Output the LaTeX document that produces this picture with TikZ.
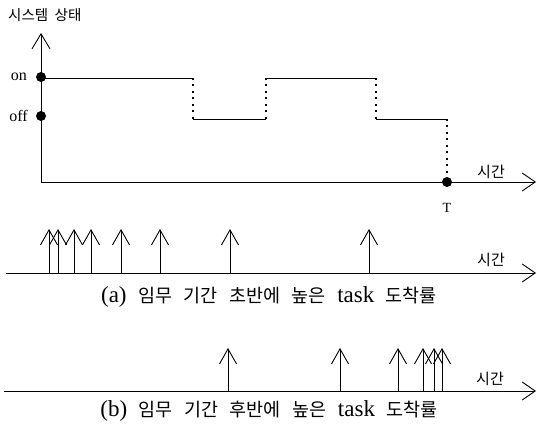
\documentclass[tikz,border=0pt]{standalone}
\usepackage{fontspec}
\setmainfont{Liberation Serif}
\newfontfamily\kr{Noto Sans CJK KR}
\usetikzlibrary{arrows.meta}
\newcommand{\krc}[1]{{\kr\fontsize{18.5}{21}\selectfont #1}}
\begin{document}
\begin{tikzpicture}[x=1pt,y=-1pt,
  yaxis/.style={line width=0.8pt,-{Straight Barb[length=15pt,width=18pt,line width=0.9pt]}},
  axis/.style={line width=0.8pt,-{Straight Barb[length=13pt,width=18pt,line width=0.9pt]}},
  plain/.style={line width=0.8pt},
  dotline/.style={line width=2pt,dash pattern=on 2pt off 4.5pt},
  taskarrow/.style={line width=0.8pt,-{Straight Barb[length=15pt,width=17pt,line width=0.9pt]}},
  stateDot/.style={circle,fill=black,inner sep=0pt,minimum size=10pt},
  timelbl/.style={inner sep=0pt,font=\kr\fontsize{15}{17}\selectfont},
  captext/.style={inner sep=0pt,font=\fontsize{23}{25}\selectfont}]
\useasboundingbox (0,0) rectangle (537,427);
% top diagram
\coordinate (o) at (41,182);
\coordinate (ytop) at (41,33);
\coordinate (xend) at (536,182);
\draw[yaxis] (o) -- (ytop);
\draw[axis] (o) -- (xend);
\node[inner sep=0pt,anchor=west,font=\kr\fontsize{14.5}{17}\selectfont] (title) at (8,15.5) {시스템\ \ 상태};
\node[stateDot] (on) at (41,77) {};
\node[stateDot] (off) at (41,116) {};
\node[inner sep=0pt,anchor=east,font=\fontsize{16}{18}\selectfont] (onl) at (27,77) {on};
\node[inner sep=0pt,anchor=east,font=\fontsize{16}{18}\selectfont] (offl) at (28,116) {off};
\coordinate (a0) at (41,78);
\coordinate (a1) at (193,78);
\coordinate (a2) at (193,119);
\coordinate (a3) at (266,119);
\coordinate (a4) at (266,78);
\coordinate (a5) at (376,78);
\coordinate (a6) at (376,119);
\coordinate (a7) at (447,119);
\node[stateDot] (Tdot) at (447,182) {};
\draw[plain] (a0) -- (a1);
\draw[dotline] (a1) -- (a2);
\draw[plain] (a2) -- (a3);
\draw[dotline] (a3) -- (a4);
\draw[plain] (a4) -- (a5);
\draw[dotline] (a5) -- (a6);
\draw[plain] (a6) -- (a7);
\draw[dotline] (a7) -- (Tdot.north);
\node[inner sep=0pt,font=\fontsize{14}{16}\selectfont] (T) at (447,208) {T};
\node[timelbl] (t1) at (491,172) {시간};
% middle diagram
\coordinate (m0) at (6,273);
\coordinate (m1) at (536,273);
\draw[axis] (m0) -- (m1);
\node[timelbl] (t2) at (491,260) {시간};
\foreach \x/\n in {49/1,58/2,74/3,91/4,121/5,160/6,230/7,369/8}{
  \coordinate (ma\n) at (\x,273);
  \coordinate (mb\n) at (\x,229);
  \draw[taskarrow] (ma\n) -- (mb\n);
}
\node[captext] (capa) at (269,297) {(a)\ \ \krc{임무}\ \ \krc{기간}\ \ \krc{초반에}\ \ \krc{높은}\ \ task\ \ \krc{도착률}};
% bottom diagram
\coordinate (b0) at (4,391);
\coordinate (b1) at (536,391);
\draw[axis] (b0) -- (b1);
\node[timelbl] (t3) at (490,379) {시간};
\foreach \x/\n in {228/1,340/2,398/3,423/4,434/5,442/6}{
  \coordinate (ba\n) at (\x,391);
  \coordinate (bb\n) at (\x,348);
  \draw[taskarrow] (ba\n) -- (bb\n);
}
\node[captext] (capb) at (269,411) {(b)\ \ \krc{임무}\ \ \krc{기간}\ \ \krc{후반에}\ \ \krc{높은}\ \ task\ \ \krc{도착률}};
\end{tikzpicture}
\end{document}
